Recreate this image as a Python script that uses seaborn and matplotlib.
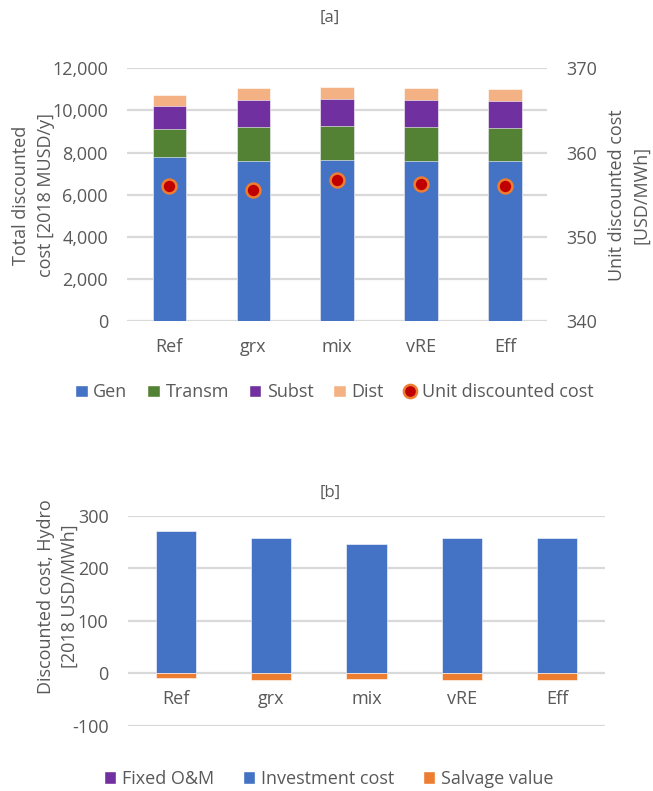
import matplotlib
matplotlib.use("Agg")
import matplotlib.pyplot as plt
from matplotlib.lines import Line2D
from matplotlib.patches import Patch
import numpy as np
import pandas as pd
import seaborn as sns

# Scenarios
scenarios = ["Ref", "grx", "mix", "vRE", "Eff"]

# [a] total discounted cost components, 2018 MUSD/y
gen = [7770, 7600, 7650, 7600, 7580]
transm = [1340, 1600, 1600, 1600, 1580]
subst = [1110, 1310, 1310, 1310, 1300]
dist = [520, 540, 540, 540, 550]
# unit discounted cost, USD/MWh
unit_cost = [356.0, 355.5, 356.7, 356.3, 356.0]

# [b] hydro discounted cost, 2018 USD/MWh
fixed_om = [0, 0, 0, 0, 0]
investment = [271.5, 258.3, 245.7, 258.3, 257.7]
salvage = [-9.5, -12.7, -12.0, -12.7, -12.7]

C_GEN, C_TRANSM, C_SUBST, C_DIST = "#4472C4", "#548235", "#7030A0", "#F4B183"
C_INV, C_SALV, C_OM = "#4472C4", "#ED7D31", "#7030A0"
TXT = "#595959"
GRID = "#D9D9D9"
FS = 13

sns.set_theme(style="white")
plt.rcParams["font.family"] = ["Open Sans", "DejaVu Sans"]
plt.rcParams["text.color"] = TXT
plt.rcParams["axes.labelcolor"] = TXT
plt.rcParams["xtick.color"] = TXT
plt.rcParams["ytick.color"] = TXT
plt.rcParams["axes.unicode_minus"] = False

fig = plt.figure(figsize=(6.53, 7.91), dpi=100)

# ---------- panel [a] ----------
ax1 = fig.add_axes([0.195, 0.5942, 0.643, 0.3195])
df_a = pd.DataFrame({"scenario": scenarios, "gen": gen, "transm": transm,
                     "subst": subst, "dist": dist})
df_a["c_transm"] = df_a["gen"] + df_a["transm"]
df_a["c_subst"] = df_a["c_transm"] + df_a["subst"]
df_a["c_dist"] = df_a["c_subst"] + df_a["dist"]

for col, color in [("c_dist", C_DIST), ("c_subst", C_SUBST),
                   ("c_transm", C_TRANSM), ("gen", C_GEN)]:
    sns.barplot(data=df_a, x="scenario", y=col, order=scenarios, color=color,
                width=0.4, saturation=1, ax=ax1, edgecolor="white",
                linewidth=0.4, zorder=3)

ax1.set_xlim(-0.5, 4.5)
ax1.set_ylim(0, 12000)
ax1.set_yticks(np.arange(0, 12001, 2000))
ax1.set_yticklabels([f"{v:,}" for v in range(0, 12001, 2000)])
ax1.yaxis.grid(True, color=GRID, linewidth=1.6, zorder=0)
ax1.set_axisbelow(True)
for s in ax1.spines.values():
    s.set_visible(False)
ax1.tick_params(axis="both", length=0, labelsize=FS)
ax1.tick_params(axis="y", pad=14)
ax1.tick_params(axis="x", pad=12)
ax1.set_xlabel("")
ax1.set_ylabel("")

ax1r = ax1.twinx()
df_u = pd.DataFrame({"scenario": scenarios, "unit": unit_cost})
sns.scatterplot(data=df_u, x="scenario", y="unit", ax=ax1r, s=100,
                color="#C00000", edgecolor=C_SALV, linewidth=1.8, zorder=5)
ax1r.set_xlim(-0.5, 4.5)
ax1r.set_ylim(340, 370)
ax1r.set_yticks([340, 350, 360, 370])
for s in ax1r.spines.values():
    s.set_visible(False)
ax1r.tick_params(axis="y", length=0, labelsize=FS, pad=14)
ax1r.set_ylabel("")
ax1r.set_xlabel("")

fig.text(0.505, 0.978, "[a]", ha="center", va="center", fontsize=12)
fig.text(0.051, 0.753, "Total discounted\ncost [2018 MUSD/y]", rotation=90,
         ha="center", va="center", fontsize=FS, linespacing=1.5)
fig.text(0.964, 0.753, "Unit discounted cost\n[USD/MWh]", rotation=90,
         ha="center", va="center", fontsize=FS, linespacing=1.45)

handles_a = [
    Patch(facecolor=C_GEN, label="Gen"),
    Patch(facecolor=C_TRANSM, label="Transm"),
    Patch(facecolor=C_SUBST, label="Subst"),
    Patch(facecolor=C_DIST, label="Dist"),
    Line2D([], [], marker="o", linestyle="", markersize=9.5,
           markerfacecolor="#C00000", markeredgecolor=C_SALV,
           markeredgewidth=1.8, label="Unit discounted cost"),
]
fig.legend(handles=handles_a, loc="center", bbox_to_anchor=(0.512, 0.504),
           ncol=5, frameon=False, fontsize=FS, handlelength=0.7,
           handleheight=0.7, handletextpad=0.3, columnspacing=1.1)

# ---------- panel [b] ----------
ax2 = fig.add_axes([0.196, 0.0826, 0.7305, 0.2655])
df_b = pd.DataFrame({"scenario": scenarios, "om": fixed_om,
                     "inv": investment, "salv": salvage})
df_b["c_inv"] = df_b["om"] + df_b["inv"]

sns.barplot(data=df_b, x="scenario", y="c_inv", order=scenarios, color=C_INV,
            width=0.42, saturation=1, ax=ax2, edgecolor="white",
            linewidth=0.4, zorder=3)
sns.barplot(data=df_b, x="scenario", y="om", order=scenarios, color=C_OM,
            width=0.42, saturation=1, ax=ax2, linewidth=0, zorder=3)
sns.barplot(data=df_b, x="scenario", y="salv", order=scenarios, color=C_SALV,
            width=0.42, saturation=1, ax=ax2, edgecolor="white",
            linewidth=0.4, zorder=3)

ax2.set_xlim(-0.5, 4.5)
ax2.set_ylim(-100, 300)
ax2.set_yticks([-100, 0, 100, 200, 300])
ax2.yaxis.grid(True, color=GRID, linewidth=1.6, zorder=0)
ax2.set_axisbelow(True)
for s in ax2.spines.values():
    s.set_visible(False)
ax2.spines["bottom"].set_position(("data", 0))
ax2.tick_params(axis="both", length=0, labelsize=FS)
ax2.tick_params(axis="y", pad=14)
ax2.tick_params(axis="x", pad=12)
ax2.set_xlabel("")
ax2.set_ylabel("")

fig.text(0.505, 0.377, "[b]", ha="center", va="center", fontsize=12)
fig.text(0.089, 0.246, "Discounted cost, Hydro\n[2018 USD/MWh]", rotation=90,
         ha="center", va="center", fontsize=FS, linespacing=1.45)

handles_b = [
    Patch(facecolor=C_OM, label="Fixed O&M"),
    Patch(facecolor=C_INV, label="Investment cost"),
    Patch(facecolor=C_SALV, label="Salvage value"),
]
fig.legend(handles=handles_b, loc="center", bbox_to_anchor=(0.503, 0.015),
           ncol=3, frameon=False, fontsize=FS, handlelength=0.7,
           handleheight=0.7, handletextpad=0.3, columnspacing=1.6)

fig.savefig("out.png", dpi=100, facecolor="white")
